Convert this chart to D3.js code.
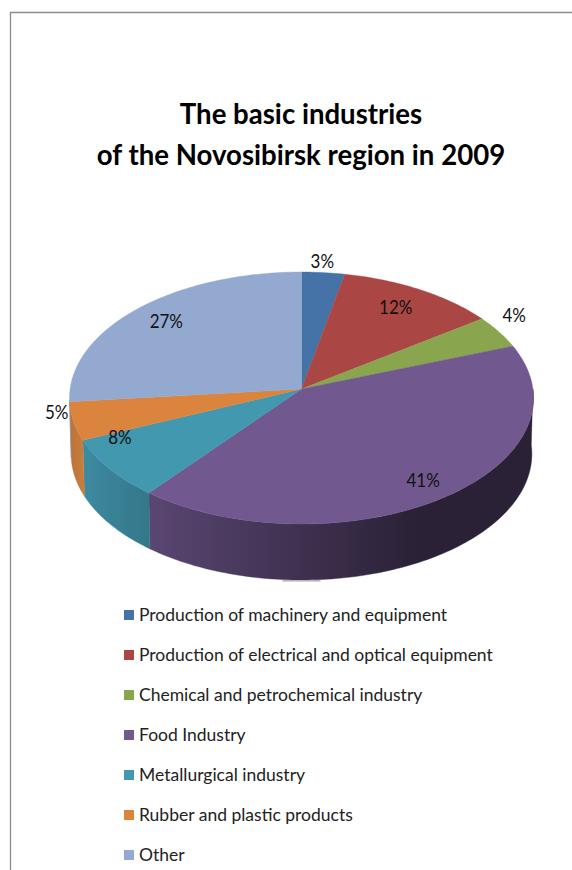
<!DOCTYPE html>
<html>
<head>
<meta charset="utf-8">
<script src="https://cdn.jsdelivr.net/npm/d3@7/dist/d3.min.js"></script>
<style>
html,body{margin:0;padding:0;background:#fff;}
svg{display:block;}
text{font-family:Lato,"Open Sans",sans-serif;}
</style>
</head>
<body>
<svg id="chart" width="572" height="870"></svg>
<script>
// ---- data ----
const categories = [
  "Production of machinery and equipment",
  "Production of electrical and optical equipment",
  "Chemical and petrochemical industry",
  "Food Industry",
  "Metallurgical industry",
  "Rubber and plastic products",
  "Other"
];
const shares = [3.2, 11.9, 4.2, 41.4, 7.8, 4.9, 26.6];
const titleLines = ["The basic industries", "of the Novosibirsk region in 2009"];

// ---- styles ----
const topColors = ["#4572A7","#AA4643","#89A54E","#71588F","#4198AF","#DB843D","#93A9CF"];
const sideStops = [
  ["#3a5f8c","#3a5f8c"],
  ["#8e3a38","#8e3a38"],
  ["#728a41","#728a41"],
  ["#5a4672","#2a2136"],
  ["#3f8ea4","#34778a"],
  ["#bc7236","#c67f3e"],
  ["#7b8dad","#7b8dad"]
];
// label placement: radius in pie units, and angular nudge in degrees
const labelRadius = [1.10, 0.81, 1.14, 0.85, 0.85, 1.06, 0.83];
const labelNudge  = [-0.7, -1.1, -4.6, 0, 11.4, 4.8, 0.8];

// ---- layout ----
const svg = d3.select("#chart");
const apex = {x: 301.5, y: 389};      // where slices meet
const backRy = 117, frontRy = 135, rimRx = 231.4;
const depth = 56, baseShrink = 0.993;

// perspective projection of the unit disc (y grows toward the viewer)
const k = -(frontRy - backRy) / (frontRy + backRy);
const b = frontRy * (1 + k);
function project(angle, r) {
  const ux = r * Math.sin(angle), uy = -r * Math.cos(angle);
  const w = 1 + k * uy;
  return [apex.x + rimRx * ux / w, apex.y + b * uy / w];
}
function projectBase(angle) {
  const p = project(angle, 1);
  return [apex.x + (p[0] - apex.x) * baseShrink, p[1] + depth];
}
function samples(a0, a1) {
  const n = Math.max(2, Math.ceil((a1 - a0) / 0.02));
  return d3.range(n + 1).map(i => a0 + (a1 - a0) * i / n);
}
const line = d3.line();

const pie = d3.pie().sort(null).startAngle(0).endAngle(2 * Math.PI);
const arcs = pie(shares).map((d, i) => ({...d, i}));

// frame
svg.append("path").attr("d", "M10.5,870V12.5H572")
  .attr("fill", "none").attr("stroke", "#8c8c8c").attr("stroke-width", 1.3);

// title
svg.append("g").selectAll("text").data(titleLines).join("text")
  .attr("x", 301).attr("y", (d, i) => 124 + i * 41)
  .attr("text-anchor", "middle")
  .attr("font-size", 27.6).attr("font-weight", 700).attr("fill", "#000")
  .text(d => d);

// gradients for the side wall
const defs = svg.append("defs");
const sideLimits = [Math.PI / 2, 265 * Math.PI / 180];
arcs.forEach(d => {
  const g = defs.append("linearGradient").attr("id", "side" + d.i)
    .attr("gradientUnits", "userSpaceOnUse")
    .attr("x1", d.i === 3 ? project(d.endAngle, 1)[0] : project(sideLimits[1], 1)[0])
    .attr("x2", d.i === 3 ? apex.x + 115 : project(d.startAngle, 1)[0] + 1)
    .attr("y1", 0).attr("y2", 0);
  g.append("stop").attr("offset", 0).attr("stop-color", sideStops[d.i][0]);
  g.append("stop").attr("offset", 1).attr("stop-color", sideStops[d.i][1]);
});

// side wall
const sideData = arcs.filter(d => d.endAngle > sideLimits[0] && d.startAngle < sideLimits[1]);
svg.append("g").selectAll("path").data(sideData).join("path")
  .attr("d", d => {
    const a = samples(Math.max(d.startAngle, sideLimits[0]), Math.min(d.endAngle, sideLimits[1]));
    const pts = a.map(t => project(t, 1)).concat(a.slice().reverse().map(projectBase));
    return line(pts) + "Z";
  })
  .attr("fill", d => `url(#side${d.i})`)
  .attr("stroke", d => `url(#side${d.i})`).attr("stroke-width", 0.4);

// faint reflection below the front edge
const foot = projectBase(Math.PI);
svg.append("rect").attr("x", foot[0] - 19).attr("y", foot[1])
  .attr("width", 38).attr("height", 1.6).attr("fill", "#b9b4c0");

// top face
svg.append("g").selectAll("path").data(arcs).join("path")
  .attr("d", d => {
    const pts = [[apex.x, apex.y]].concat(samples(d.startAngle, d.endAngle).map(t => project(t, 1)));
    return line(pts) + "Z";
  })
  .attr("fill", d => topColors[d.i])
  .attr("stroke", d => topColors[d.i]).attr("stroke-width", 0.4);

// data labels (slightly tall, narrow figures as in the reference)
svg.append("g").selectAll("text").data(arcs).join("text")
  .attr("transform", d => {
    const mid = (d.startAngle + d.endAngle) / 2 + labelNudge[d.i] * Math.PI / 180;
    return `translate(${project(mid, labelRadius[d.i])}) scale(1,1.15)`;
  })
  .attr("text-anchor", "middle").attr("dy", "0.35em")
  .attr("font-size", 17).attr("fill", "#111")
  .text(d => d3.format(".0f")(d.data) + "%");

// legend
const legendY = d3.scalePoint().domain(categories).range([615, 855]);
const legend = svg.append("g").selectAll("g").data(categories).join("g")
  .attr("transform", d => `translate(124,${legendY(d)})`);
legend.append("rect").attr("y", -5).attr("width", 10).attr("height", 10)
  .attr("fill", (d, i) => topColors[i]);
legend.append("text").attr("x", 15).attr("dy", "0.35em")
  .attr("font-size", 17.5).attr("fill", "#222")
  .text(d => d);
</script>
</body>
</html>
